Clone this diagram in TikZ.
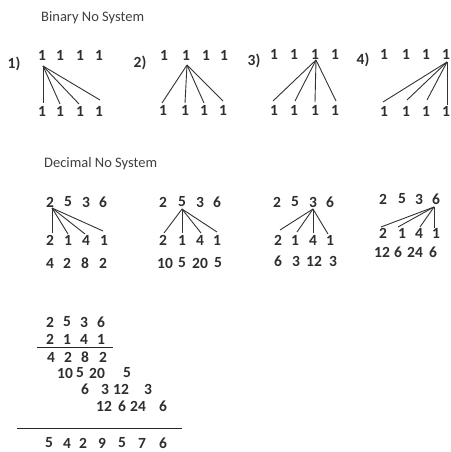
\documentclass[tikz,border=0pt]{standalone}
\usepackage{fontspec}
\setmainfont{Carlito}
\definecolor{ink}{HTML}{2E2E2E}
\definecolor{ttlc}{HTML}{404040}
\begin{document}
\begin{tikzpicture}[x=1pt,y=-1pt,
  dg/.style={font=\bfseries\fontsize{15.5}{16}\selectfont, text=ink, inner sep=0pt},
  ttl/.style={font=\fontsize{14.5}{15}\selectfont, text=ttlc, inner sep=0pt, anchor=west},
  ln/.style={draw=black!80, line width=0.9pt},
  rule/.style={draw=black!85, line width=1pt}]
\useasboundingbox[fill=white] (0,0) rectangle (450,452);

% titles
\node[ttl] (tbin) at (41,18) {Binary No System};
\node[ttl] (tdec) at (44,164) {Decimal No System};

% ---------- Binary group 1 ----------
\node[dg] (l1) at (14,64) {1)};
\foreach \x [count=\i] in {42,60,80,99} {
  \node[dg] (a\i) at (\x,55) {1};
  \node[dg] (ab\i) at (\x,111) {1};
}
\coordinate (ao) at (43,66);
\coordinate (ae1) at (43,103);
\coordinate (ae2) at (60,104);
\coordinate (ae3) at (79,104);
\coordinate (ae4) at (100,100);
\foreach \i in {1,...,4} \draw[ln] (ao) -- (ae\i);

% ---------- Binary group 2 ----------
\node[dg] (l2) at (140,63) {2)};
\foreach \x [count=\i] in {164,186,206,224} {
  \node[dg] (b\i) at (\x,55) {1};
}
\foreach \x [count=\i] in {163,185,204,223} {
  \node[dg] (bb\i) at (\x,110) {1};
}
\coordinate (bo) at (187,65);
\coordinate (be1) at (162,103);
\coordinate (be2) at (185,103);
\coordinate (be3) at (204,103);
\coordinate (be4) at (223,101);
\foreach \i in {1,...,4} \draw[ln] (bo) -- (be\i);

% ---------- Binary group 3 ----------
\node[dg] (l3) at (254,61) {3)};
\foreach \x [count=\i] in {274,294,315,335} {
  \node[dg] (c\i) at (\x,54) {1};
  \node[dg] (cb\i) at (\x,110) {1};
}
\coordinate (co) at (316,60);
\coordinate (ce1) at (273,101);
\coordinate (ce2) at (295,101);
\coordinate (ce3) at (315,102);
\coordinate (ce4) at (336,101);
\foreach \i in {1,...,4} \draw[ln] (co) -- (ce\i);

% ---------- Binary group 4 ----------
\node[dg] (l4) at (363,60) {4)};
\foreach \x [count=\i] in {384,406,426,446} {
  \node[dg] (d\i) at (\x,54) {1};
  \node[dg] (db\i) at (\x,111) {1};
}
\coordinate (do) at (447,62);
\coordinate (de1) at (383,102);
\coordinate (de2) at (407,100);
\coordinate (de3) at (427,100);
\coordinate (de4) at (447,105);
\foreach \i in {1,...,4} \draw[ln] (do) -- (de\i);

% ---------- Decimal group 1 ----------
\foreach \x/\t [count=\i] in {50/2,68/5,86/3,103/6} \node[dg] (p\i) at (\x,202) {\t};
\foreach \x/\t [count=\i] in {50/2,68/1,86/4,104/1} \node[dg] (q\i) at (\x,240) {\t};
\foreach \x/\t [count=\i] in {50/4,67/2,85/8,103/2} \node[dg] (r\i) at (\x,263) {\t};
\coordinate (po) at (52,208);
\coordinate (pe1) at (52,233);
\coordinate (pe2) at (68,234);
\coordinate (pe3) at (85,234);
\coordinate (pe4) at (103,231);
\foreach \i in {1,...,4} \draw[ln] (po) -- (pe\i);

% ---------- Decimal group 2 ----------
\foreach \x/\t [count=\i] in {163/2,182/5,200/3,217/6} \node[dg] (s\i) at (\x,202) {\t};
\foreach \x/\t [count=\i] in {163/2,182/1,200/4,217/1} \node[dg] (u\i) at (\x,240) {\t};
\foreach \x/\t [count=\i] in {165/10,182/5,200/20,218/5} \node[dg] (v\i) at (\x,263) {\t};
\coordinate (so) at (182,209);
\coordinate (se1) at (164,233);
\coordinate (se2) at (182,233);
\coordinate (se3) at (201,233);
\coordinate (se4) at (217,232);
\foreach \i in {1,...,4} \draw[ln] (so) -- (se\i);

% ---------- Decimal group 3 ----------
\foreach \x/\t [count=\i] in {277/2,295/5,313/3,330/6} \node[dg] (w\i) at (\x,202) {\t};
\foreach \x/\t [count=\i] in {278/2,295/1,313/4,330/1} \node[dg] (y\i) at (\x,240) {\t};
\foreach \x/\t [count=\i] in {278/6,296/3,314/12,333/3} \node[dg] (z\i) at (\x,261) {\t};
\coordinate (wo) at (313,209);
\coordinate (we1) at (280,230);
\coordinate (we2) at (297,232);
\coordinate (we3) at (313,233);
\coordinate (we4) at (328,234);
\foreach \i in {1,...,4} \draw[ln] (wo) -- (we\i);

% ---------- Decimal group 4 ----------
\foreach \x/\t [count=\i] in {383/2,402/5,419/3,436/6} \node[dg] (m\i) at (\x,199) {\t};
\foreach \x/\t [count=\i] in {383/2,402/1,419/4,436/1} \node[dg] (n\i) at (\x,233) {\t};
\foreach \x/\t [count=\i] in {382/12,398/6,415/24,433/6} \node[dg] (o\i) at (\x,252) {\t};
\coordinate (mo) at (434,207);
\coordinate (me1) at (381,227);
\coordinate (me2) at (398,227);
\coordinate (me3) at (420,227);
\coordinate (me4) at (434,228);
\foreach \i in {1,...,4} \draw[ln] (mo) -- (me\i);

% ---------- Long multiplication ----------
\foreach \x/\t [count=\i] in {50/2,67/5,84/3,101/6} \node[dg] (ka\i) at (\x,322) {\t};
\foreach \x/\t [count=\i] in {50/2,67/1,84/4,101/1} \node[dg] (kb\i) at (\x,339) {\t};
\coordinate (r1a) at (37,347);
\coordinate (r1b) at (113,347);
\draw[rule] (r1a) -- (r1b);
\foreach \x/\t [count=\i] in {51/4,68/2,85/8,103/2} \node[dg] (kc\i) at (\x,357) {\t};
\foreach \x/\t [count=\i] in {65/10,80/5,97/20,127/5} \node[dg] (kd\i) at (\x,373) {\t};
\foreach \x/\t [count=\i] in {85/6,105/3,121/12,148/3} \node[dg] (ke\i) at (\x,389) {\t};
\foreach \x/\t [count=\i] in {104/12,122/6,138/24,163/6} \node[dg] (kf\i) at (\x,406) {\t};
\coordinate (r2a) at (17,428);
\coordinate (r2b) at (182,428);
\draw[rule] (r2a) -- (r2b);
\foreach \x/\t [count=\i] in {49/5,67/4,83/2,102/9,122/5,142/7,163/6} \node[dg] (kg\i) at (\x,443) {\t};
\end{tikzpicture}
\end{document}
